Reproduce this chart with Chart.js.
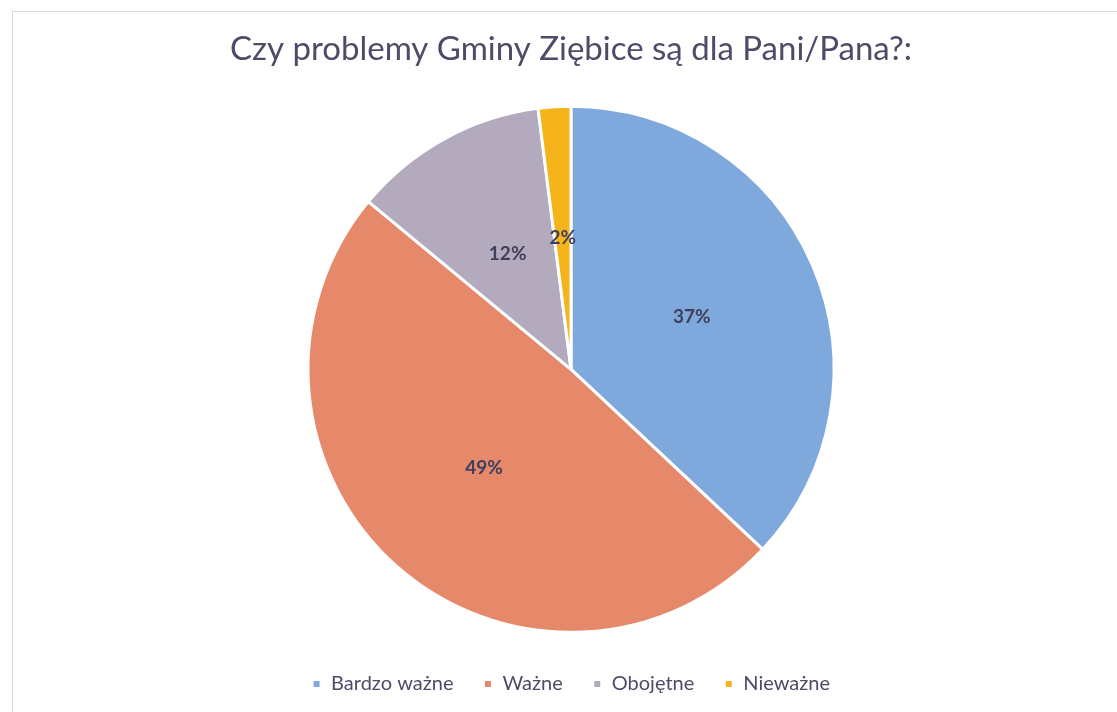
<!DOCTYPE html>
<html>
<head>
<meta charset="utf-8">
<script src="https://cdn.jsdelivr.net/npm/chart.js@4/dist/chart.umd.min.js"></script>
<style>
html,body{margin:0;padding:0;background:#fff;}
#wrap{position:relative;width:1117px;height:712px;overflow:hidden;}
#frame{position:absolute;left:12px;top:11px;width:1120px;height:720px;border-left:1px solid #d9d9d9;border-top:1px solid #d9d9d9;}
canvas{position:absolute;left:0;top:0;}
</style>
</head>
<body>
<div id="wrap">
<div id="frame"></div>
<canvas id="c" width="1117" height="712"></canvas>
</div>
<script>
const titleText = "Czy problemy Gminy Ziębice są dla Pani/Pana?:";
const categories = ["Bardzo ważne", "Ważne", "Obojętne", "Nieważne"];
const values = [37, 49, 12, 2];
const valueLabels = ["37%", "49%", "12%", "2%"];
const colors = ["#7fa9dd", "#e6896b", "#b4aabd", "#f5b41c"];

const labelPlugin = {
  id: 'sliceLabels',
  afterDatasetsDraw(chart) {
    const ctx = chart.ctx;
    const meta = chart.getDatasetMeta(0);
    ctx.save();
    ctx.font = "bold 19px Lato, 'Noto Sans', sans-serif";
    ctx.fillStyle = "#40405c";
    ctx.textAlign = "center";
    ctx.textBaseline = "middle";
    meta.data.forEach((arc, i) => {
      const p = arc.tooltipPosition();
      ctx.fillText(valueLabels[i], p.x, p.y);
    });
    ctx.restore();
  }
};

new Chart(document.getElementById('c'), {
  type: 'pie',
  data: {
    labels: categories,
    datasets: [{
      data: values,
      backgroundColor: colors,
      borderColor: "#ffffff",
      borderWidth: 3
    }]
  },
  options: {
    responsive: false,
    animation: false,
    radius: 263,
    layout: { padding: { left: 25, right: 0, top: 22, bottom: 8 } },
    plugins: {
      title: {
        display: true,
        text: titleText,
        color: "#4d4c68",
        font: { family: "Lato, 'Noto Sans', sans-serif", size: 33, weight: 'normal' },
        padding: { top: 8, bottom: 25 }
      },
      legend: {
        position: 'bottom',
        labels: {
          color: "#4d4c68",
          font: { family: "Lato, 'Noto Sans', sans-serif", size: 20 },
          boxWidth: 9,
          boxHeight: 9,
          padding: 30
        }
      },
      tooltip: { enabled: false }
    }
  },
  plugins: [labelPlugin]
});
</script>
</body>
</html>
